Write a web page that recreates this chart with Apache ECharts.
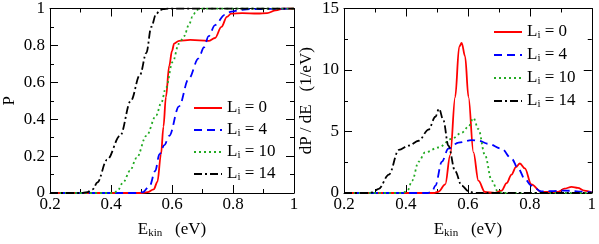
<!DOCTYPE html>
<html><head><meta charset="utf-8">
<script src="https://cdn.jsdelivr.net/npm/echarts@6/dist/echarts.min.js"></script>
<style>html,body{margin:0;padding:0;background:#fff}#c{width:599px;height:244px}</style>
</head><body><div id="c"></div>
<script>
const names = ['L_i = 0', 'L_i = 4', 'L_i = 10', 'L_i = 14'];
const colors = ['#ff0000', '#0000ff', '#22aa22', '#000000'];
const dashes = ['solid', [8, 5], [2, 3], [8, 3, 2, 3]];

// Left panel: P(E)
const P0 = [[0.2,0],[0.5,0],[0.52,0.005],[0.54,0.02],[0.552,0.06],[0.564,0.21],[0.572,0.36],[0.58,0.52],[0.591,0.69],[0.6,0.77],[0.607,0.81],[0.623,0.825],[0.66,0.83],[0.72,0.825],[0.741,0.84],[0.762,0.9],[0.78,0.955],[0.794,0.972],[0.83,0.975],[0.88,0.973],[0.912,0.975],[0.94,0.99],[0.966,1],[1,1]];
const P4 = [[0.2,0],[0.49,0],[0.505,0.005],[0.527,0.04],[0.545,0.12],[0.559,0.21],[0.575,0.26],[0.591,0.31],[0.623,0.47],[0.655,0.62],[0.687,0.73],[0.705,0.79],[0.72,0.85],[0.741,0.91],[0.773,0.966],[0.794,0.983],[0.83,0.993],[0.859,0.997],[1,1]];
const P10 = [[0.2,0],[0.41,0],[0.42,0.01],[0.441,0.06],[0.462,0.12],[0.484,0.19],[0.516,0.31],[0.548,0.42],[0.565,0.49],[0.58,0.57],[0.602,0.71],[0.623,0.81],[0.64,0.85],[0.655,0.91],[0.667,0.955],[0.677,0.98],[0.687,0.997],[0.7,1],[1,1]];
const P14 = [[0.2,0],[0.3,0],[0.323,0.005],[0.34,0.02],[0.355,0.057],[0.387,0.18],[0.43,0.31],[0.465,0.5],[0.495,0.64],[0.516,0.76],[0.532,0.9],[0.548,0.97],[0.56,0.99],[0.57,0.997],[0.59,1],[1,1]];

// Right panel: dP/dE
const D0 = [[0.2,0],[0.49,0],[0.505,0.1],[0.527,0.7],[0.543,3.1],[0.559,7.8],[0.572,11.9],[0.58,12.2],[0.591,11.1],[0.602,7.8],[0.618,3.3],[0.634,1.0],[0.655,0.08],[0.687,0],[0.709,0.2],[0.725,0.8],[0.741,1.5],[0.755,2.1],[0.768,2.4],[0.784,2.0],[0.805,0.7],[0.837,0.08],[0.89,0.08],[0.912,0.35],[0.935,0.5],[0.955,0.42],[0.976,0.2],[1,0.05]];
const D4 = [[0.2,0],[0.47,0],[0.484,0.1],[0.495,0.6],[0.516,2.55],[0.537,3.6],[0.57,4.1],[0.612,4.3],[0.634,4.25],[0.666,4.0],[0.709,3.6],[0.741,2.8],[0.762,2.0],[0.785,1.1],[0.805,0.6],[0.837,0.13],[0.87,0.15],[0.912,0.2],[0.976,0.1],[1,0.05]];
const D10 = [[0.2,0],[0.39,0],[0.405,0.2],[0.42,1.0],[0.441,2.55],[0.462,3.3],[0.505,3.7],[0.548,4.4],[0.58,4.9],[0.602,5.4],[0.618,6.1],[0.634,5.2],[0.655,3.1],[0.677,1.0],[0.698,0.08],[0.72,0],[1,0]];
const D14 = [[0.2,0],[0.28,0],[0.291,0.05],[0.312,0.34],[0.345,1.5],[0.377,3.5],[0.409,3.85],[0.441,4.25],[0.473,5.15],[0.495,6.2],[0.507,6.85],[0.521,5.9],[0.537,3.85],[0.559,1.77],[0.58,0.6],[0.602,0.15],[0.62,0.02],[0.65,0],[1,0]];

const leftData = [P0, P4, P10, P14];
const rightData = [D0, D4, D10, D14];

const font = 'Liberation Serif';
const rich = {
  a: {fontFamily: font, fontSize: 17, color: '#000', lineHeight: 18},
  s: {fontFamily: font, fontSize: 11, color: '#000', verticalAlign: 'bottom', padding: [9, 0, 0, 0], lineHeight: 12}
};
function subFmt(name) {
  const m = name.match(/^(.*?)_(\w+)(.*)$/);
  return m ? '{a|' + m[1] + '}{s|' + m[2] + '}{a|' + m[3] + '}' : '{a|' + name + '}';
}

function xAx(gi, pos, show) {
  return {
    type: 'value', gridIndex: gi, position: pos, min: 0.2, max: 1, interval: 0.2,
    axisLine: {show: true, onZero: false, lineStyle: {color: '#000', width: 1}},
    axisTick: {show: true, inside: true, length: 8, lineStyle: {color: '#000'}},
    minorTick: {show: true, splitNumber: 2, length: 4, lineStyle: {color: '#000'}},
    splitLine: {show: false},
    axisLabel: {show: show, fontFamily: font, fontSize: 17, color: '#000', margin: 3,
      formatter: v => (Math.abs(v - 1) < 1e-9 ? '1' : String(+v.toFixed(1)))},
    name: show ? '{a|E}{s|kin}{a|   (eV)}' : '', nameLocation: 'middle', nameGap: 28,
    nameTextStyle: {rich: rich}
  };
}
function yAx(gi, pos, show, max, interval, nm, gap) {
  return {
    type: 'value', gridIndex: gi, position: pos, min: 0, max: max, interval: interval,
    axisLine: {show: true, onZero: false, lineStyle: {color: '#000', width: 1}},
    axisTick: {show: true, inside: true, length: 8, lineStyle: {color: '#000'}},
    minorTick: {show: true, splitNumber: 2, length: 4, lineStyle: {color: '#000'}},
    splitLine: {show: false},
    axisLabel: {show: show, fontFamily: font, fontSize: 17, color: '#000', margin: 5,
      formatter: v => String(+v.toFixed(1))},
    name: show ? nm : '', nameLocation: 'middle', nameGap: gap,
    nameTextStyle: {fontFamily: font, fontSize: 17, color: '#000'}
  };
}

const series = [];
[leftData, rightData].forEach((set, gi) => {
  set.forEach((d, i) => {
    series.push({
      type: 'line', name: names[i], xAxisIndex: gi * 2, yAxisIndex: gi * 2,
      data: d, smooth: 0.35, smoothMonotone: 'x', symbol: 'none', showSymbol: false,
      lineStyle: {color: colors[i], width: 1.8, type: dashes[i]},
      itemStyle: {color: colors[i]}, animation: false, z: 3
    });
  });
});

function legend(left, top, gap) {
  return {
    show: true,
    data: names,
    orient: 'vertical', left: left, top: top, itemWidth: 28, itemHeight: 14, itemGap: gap,
    itemStyle: {color: 'rgba(0,0,0,0)', borderColor: 'rgba(0,0,0,0)', borderWidth: 0, opacity: 0},
    selectedMode: false, formatter: subFmt, textStyle: {rich: rich}, padding: 0
  };
}

const chart = echarts.init(document.getElementById('c'), null, {renderer: 'canvas'});
chart.setOption({
  animation: false,
  backgroundColor: '#fff',
  grid: [
    {left: 44, top: 7, width: 250, height: 194},
    {left: 344, top: 7, width: 250, height: 193}
  ],
  xAxis: [xAx(0, 'bottom', true), xAx(0, 'top', false), xAx(1, 'bottom', true), xAx(1, 'top', false)],
  yAxis: [
    yAx(0, 'left', true, 1, 0.2, 'P', 32), yAx(0, 'right', false, 1, 0.2, '', 0),
    yAx(1, 'left', true, 15, 5, 'dP / dE   (1/eV)', 29), yAx(1, 'right', false, 15, 5, '', 0)
  ],
  legend: [legend(193, 97, 2), legend(493, 21, 3)],
  series: series
});
</script></body></html>
